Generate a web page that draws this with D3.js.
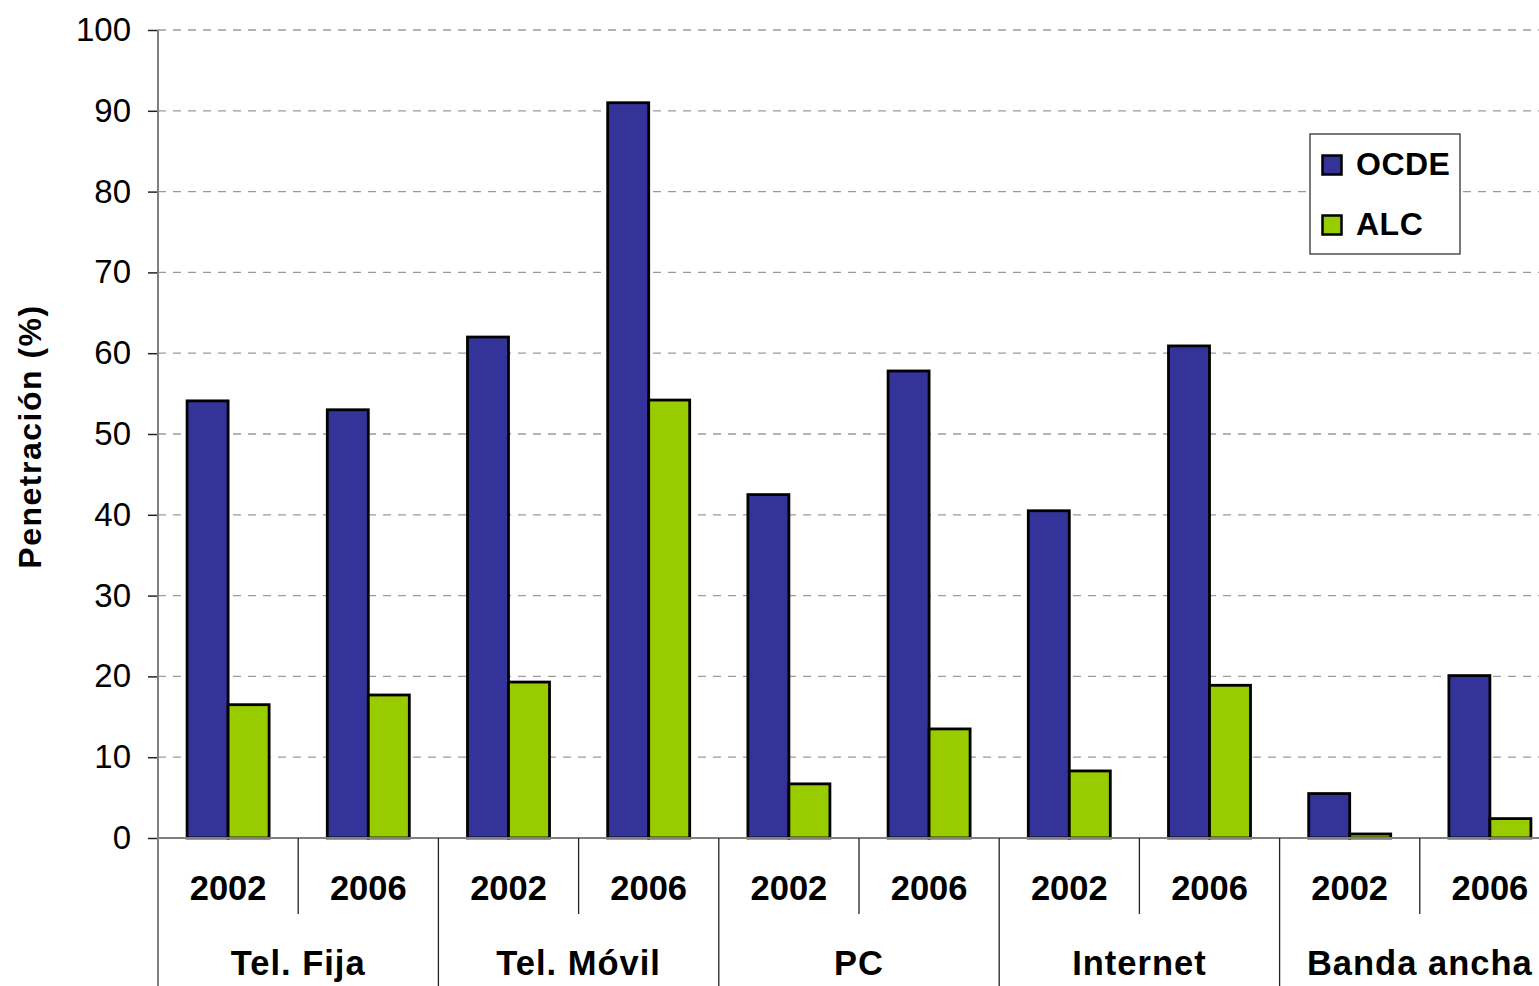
<!DOCTYPE html>
<html>
<head>
<meta charset="utf-8">
<script src="https://cdn.jsdelivr.net/npm/d3@7"></script>
<style>
  html, body { margin: 0; padding: 0; background: #fff; overflow: hidden; }
  svg { display: block; font-family: "Liberation Sans", Arial, sans-serif; }
</style>
</head>
<body>
<svg id="chart" width="1539" height="986"></svg>
<script>
// Penetration of ICT services, OECD vs Latin America & Caribbean
const categories = ["Tel. Fija", "Tel. Móvil", "PC", "Internet", "Banda ancha"];
const years = ["2002", "2006"];
const seriesNames = ["OCDE", "ALC"];
// values ordered category by category, 2002 then 2006
const ocde = [54.1, 53.0, 62.0, 91.0, 42.5, 57.8, 40.5, 60.9, 5.5, 20.1];
const alc  = [16.5, 17.7, 19.3, 54.2, 6.7, 13.5, 8.3, 18.9, 0.5, 2.4];
const yTicks = [0, 10, 20, 30, 40, 50, 60, 70, 80, 90, 100];
const yTitle = "Penetración (%)";

const colors = { OCDE: "#333399", ALC: "#99CC00" };

const svg = d3.select("#chart");
const plot = { left: 158, right: 1560, top: 30, bottom: 838 };
const figBottom = 986;

// one slot per (category, year)
const slots = [];
categories.forEach((c, ci) => years.forEach((yr, yi) => {
  const i = ci * years.length + yi;
  slots.push({ key: c + "|" + yr, cat: c, year: yr, i, OCDE: ocde[i], ALC: alc[i] });
}));

const x = d3.scaleBand().domain(slots.map(d => d.key)).range([plot.left, plot.right])
  .paddingInner(0.415).paddingOuter(0.2075);
const xs = d3.scaleBand().domain(seriesNames).range([0, x.bandwidth()]);
const y = d3.scaleLinear().domain([0, 100]).range([plot.bottom, plot.top]);
const step = x.step();

// dashed horizontal gridlines
svg.append("g").selectAll("line")
  .data(yTicks.filter(t => t > 0))
  .join("line")
  .attr("x1", plot.left).attr("x2", plot.right)
  .attr("y1", d => y(d)).attr("y2", d => y(d))
  .attr("stroke", "#9a9a9a").attr("stroke-width", 1.3)
  .attr("stroke-dasharray", "8,7");

// bars
const groups = svg.append("g").selectAll("g")
  .data(slots).join("g")
  .attr("transform", d => `translate(${x(d.key)},0)`);
groups.selectAll("rect")
  .data(d => seriesNames.map(s => ({ s, v: d[s] })))
  .join("rect")
  .attr("x", d => xs(d.s))
  .attr("width", xs.bandwidth())
  .attr("y", d => y(d.v))
  .attr("height", d => y(0) - y(d.v))
  .attr("fill", d => colors[d.s])
  .attr("stroke", "#000").attr("stroke-width", 2.8);

// baseline
svg.append("line")
  .attr("x1", plot.left).attr("x2", plot.right)
  .attr("y1", y(0)).attr("y2", y(0))
  .attr("stroke", "#808080").attr("stroke-width", 2);

// y axis
const yAxis = svg.append("g")
  .attr("transform", `translate(${plot.left},0)`)
  .call(d3.axisLeft(y).tickValues(yTicks).tickSize(10).tickPadding(17).tickFormat(d3.format("d")));
yAxis.select(".domain").remove();
yAxis.selectAll(".tick line").attr("stroke", "#222").attr("stroke-width", 1.5);
yAxis.selectAll(".tick text")
  .attr("font-size", 33).attr("fill", "#000")
  .attr("font-family", "'Liberation Sans', Arial, sans-serif");
svg.append("line")
  .attr("x1", plot.left).attr("x2", plot.left)
  .attr("y1", plot.top).attr("y2", figBottom)
  .attr("stroke", "#808080").attr("stroke-width", 2);

// y axis title
svg.append("text")
  .attr("transform", `translate(41,${(303 + 570) / 2}) rotate(-90)`)
  .attr("text-anchor", "middle")
  .attr("font-size", 32).attr("font-weight", "bold")
  .attr("letter-spacing", 1.5)
  .text(yTitle);

// separators under the axis: short between years, full between categories
const sepX = d3.range(1, slots.length).map(k => plot.left + k * step);
svg.append("g").selectAll("line")
  .data(sepX).join("line")
  .attr("x1", d => d).attr("x2", d => d)
  .attr("y1", plot.bottom)
  .attr("y2", (d, k) => ((k + 1) % years.length === 0) ? figBottom : 914)
  .attr("stroke", "#222").attr("stroke-width", 1.3);

// year labels
svg.append("g").selectAll("text")
  .data(slots).join("text")
  .attr("x", d => x(d.key) + x.bandwidth() / 2)
  .attr("y", 900)
  .attr("text-anchor", "middle")
  .attr("font-size", 34.5).attr("font-weight", "bold")
  .text(d => d.year);

// category labels
svg.append("g").selectAll("text")
  .data(categories).join("text")
  .attr("x", (d, ci) => plot.left + (ci + 0.5) * years.length * step)
  .attr("y", 975)
  .attr("text-anchor", "middle")
  .attr("font-size", 34.5).attr("font-weight", "bold")
  .attr("letter-spacing", 1)
  .text(d => d);

// legend
const lg = svg.append("g").attr("transform", "translate(1310,134)");
lg.append("rect").attr("width", 150).attr("height", 120)
  .attr("fill", "#fff").attr("stroke", "#333").attr("stroke-width", 1.3);
const li = lg.selectAll("g.item").data(seriesNames).join("g")
  .attr("class", "item")
  .attr("transform", (d, i) => `translate(0,${i * 60})`);
li.append("rect")
  .attr("x", 12.5).attr("y", 21.5).attr("width", 19).attr("height", 19)
  .attr("fill", d => colors[d]).attr("stroke", "#000").attr("stroke-width", 2.5);
li.append("text")
  .attr("x", 46).attr("y", 41)
  .attr("font-size", 32).attr("font-weight", "bold")
  .attr("letter-spacing", 0.5)
  .text(d => d);
</script>
</body>
</html>
